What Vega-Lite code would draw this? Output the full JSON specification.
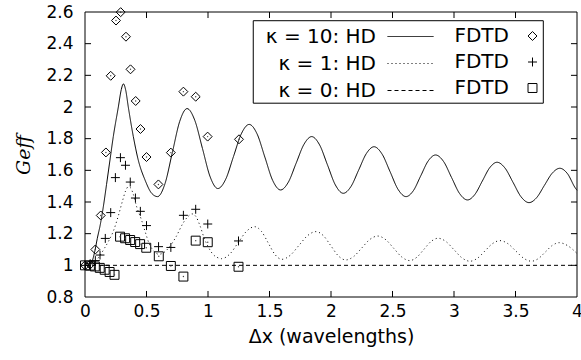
{
  "$schema": "https://vega.github.io/schema/vega-lite/v6.json",
  "width": 492,
  "height": 285,
  "autosize": {"type": "none"},
  "padding": {"left": 85, "top": 12, "right": 4, "bottom": 63},
  "background": "white",
  "config": {
    "view": {"stroke": null},
    "axis": {
      "domain": false, "ticks": false, "grid": false,
      "labelFont": "DejaVu Sans", "labelFontSize": 17, "labelColor": "black",
      "labelFlush": false, "labelOverlap": false,
      "titleFont": "DejaVu Sans", "titleFontSize": 19, "titleFontWeight": "normal", "titleColor": "black"
    }
  },
  "datasets": {
    "hd": [
      {"x": 0, "g": 1.0, "hd": "h10"}, {"x": 0.03, "g": 1.0, "hd": "h10"}, {"x": 0.055, "g": 1.02, "hd": "h10"},
      {"x": 0.08, "g": 1.09, "hd": "h10"}, {"x": 0.1, "g": 1.17, "hd": "h10"}, {"x": 0.125, "g": 1.26, "hd": "h10"},
      {"x": 0.149, "g": 1.37, "hd": "h10"}, {"x": 0.175, "g": 1.51, "hd": "h10"}, {"x": 0.203, "g": 1.665, "hd": "h10"},
      {"x": 0.23, "g": 1.813, "hd": "h10"}, {"x": 0.271, "g": 2.0, "hd": "h10"}, {"x": 0.295, "g": 2.11, "hd": "h10"},
      {"x": 0.312, "g": 2.146, "hd": "h10"}, {"x": 0.33, "g": 2.11, "hd": "h10"}, {"x": 0.352, "g": 2.0, "hd": "h10"},
      {"x": 0.393, "g": 1.813, "hd": "h10"}, {"x": 0.433, "g": 1.665, "hd": "h10"}, {"x": 0.488, "g": 1.539, "hd": "h10"},
      {"x": 0.542, "g": 1.455, "hd": "h10"}, {"x": 0.59, "g": 1.434, "hd": "h10"}, {"x": 0.65, "g": 1.515, "hd": "h10"},
      {"x": 0.71, "g": 1.712, "hd": "h10"}, {"x": 0.77, "g": 1.909, "hd": "h10"}, {"x": 0.83, "g": 1.99, "hd": "h10"},
      {"x": 0.8925, "g": 1.916, "hd": "h10"}, {"x": 0.955, "g": 1.738, "hd": "h10"}, {"x": 1.0175, "g": 1.559, "hd": "h10"},
      {"x": 1.08, "g": 1.485, "hd": "h10"}, {"x": 1.144, "g": 1.544, "hd": "h10"}, {"x": 1.2075, "g": 1.688, "hd": "h10"},
      {"x": 1.271, "g": 1.831, "hd": "h10"}, {"x": 1.335, "g": 1.89, "hd": "h10"}, {"x": 1.399, "g": 1.83, "hd": "h10"},
      {"x": 1.4625, "g": 1.683, "hd": "h10"}, {"x": 1.526, "g": 1.536, "hd": "h10"}, {"x": 1.59, "g": 1.476, "hd": "h10"},
      {"x": 1.653, "g": 1.525, "hd": "h10"}, {"x": 1.7165, "g": 1.645, "hd": "h10"}, {"x": 1.78, "g": 1.764, "hd": "h10"},
      {"x": 1.843, "g": 1.813, "hd": "h10"}, {"x": 1.907, "g": 1.761, "hd": "h10"}, {"x": 1.9715, "g": 1.634, "hd": "h10"},
      {"x": 2.036, "g": 1.507, "hd": "h10"}, {"x": 2.1, "g": 1.455, "hd": "h10"}, {"x": 2.1625, "g": 1.498, "hd": "h10"},
      {"x": 2.225, "g": 1.602, "hd": "h10"}, {"x": 2.2875, "g": 1.706, "hd": "h10"}, {"x": 2.35, "g": 1.749, "hd": "h10"},
      {"x": 2.415, "g": 1.703, "hd": "h10"}, {"x": 2.48, "g": 1.592, "hd": "h10"}, {"x": 2.545, "g": 1.48, "hd": "h10"},
      {"x": 2.61, "g": 1.434, "hd": "h10"}, {"x": 2.67, "g": 1.472, "hd": "h10"}, {"x": 2.73, "g": 1.566, "hd": "h10"},
      {"x": 2.79, "g": 1.659, "hd": "h10"}, {"x": 2.85, "g": 1.697, "hd": "h10"}, {"x": 2.915, "g": 1.656, "hd": "h10"},
      {"x": 2.98, "g": 1.555, "hd": "h10"}, {"x": 3.045, "g": 1.454, "hd": "h10"}, {"x": 3.11, "g": 1.413, "hd": "h10"},
      {"x": 3.17, "g": 1.448, "hd": "h10"}, {"x": 3.23, "g": 1.532, "hd": "h10"}, {"x": 3.29, "g": 1.616, "hd": "h10"},
      {"x": 3.35, "g": 1.651, "hd": "h10"}, {"x": 3.415, "g": 1.614, "hd": "h10"}, {"x": 3.48, "g": 1.524, "hd": "h10"},
      {"x": 3.545, "g": 1.433, "hd": "h10"}, {"x": 3.61, "g": 1.396, "hd": "h10"}, {"x": 3.6725, "g": 1.428, "hd": "h10"},
      {"x": 3.735, "g": 1.505, "hd": "h10"}, {"x": 3.7975, "g": 1.581, "hd": "h10"}, {"x": 3.86, "g": 1.613, "hd": "h10"},
      {"x": 3.9225, "g": 1.579, "hd": "h10"}, {"x": 3.985, "g": 1.49, "hd": "h10"}, {"x": 4.0, "g": 1.474, "hd": "h10"},

      {"x": 0, "g": 1.0, "hd": "h1"}, {"x": 0.04, "g": 1.0, "hd": "h1"}, {"x": 0.08, "g": 1.02, "hd": "h1"},
      {"x": 0.12, "g": 1.06, "hd": "h1"}, {"x": 0.16, "g": 1.11, "hd": "h1"}, {"x": 0.2, "g": 1.165, "hd": "h1"},
      {"x": 0.23, "g": 1.215, "hd": "h1"}, {"x": 0.27, "g": 1.31, "hd": "h1"}, {"x": 0.306, "g": 1.41, "hd": "h1"},
      {"x": 0.33, "g": 1.47, "hd": "h1"}, {"x": 0.35, "g": 1.495, "hd": "h1"}, {"x": 0.37, "g": 1.49, "hd": "h1"},
      {"x": 0.39, "g": 1.455, "hd": "h1"}, {"x": 0.42, "g": 1.37, "hd": "h1"}, {"x": 0.46, "g": 1.285, "hd": "h1"},
      {"x": 0.49, "g": 1.21, "hd": "h1"}, {"x": 0.52, "g": 1.14, "hd": "h1"}, {"x": 0.56, "g": 1.09, "hd": "h1"},
      {"x": 0.6, "g": 1.07, "hd": "h1"}, {"x": 0.64, "g": 1.08, "hd": "h1"}, {"x": 0.69, "g": 1.12, "hd": "h1"},
      {"x": 0.74, "g": 1.18, "hd": "h1"}, {"x": 0.8, "g": 1.27, "hd": "h1"}, {"x": 0.84, "g": 1.31, "hd": "h1"},
      {"x": 0.87, "g": 1.325, "hd": "h1"}, {"x": 0.9, "g": 1.31, "hd": "h1"}, {"x": 0.935, "g": 1.25, "hd": "h1"},
      {"x": 0.97, "g": 1.17, "hd": "h1"}, {"x": 1.003, "g": 1.115, "hd": "h1"}, {"x": 1.04, "g": 1.07, "hd": "h1"},
      {"x": 1.075, "g": 1.05, "hd": "h1"}, {"x": 1.11, "g": 1.042, "hd": "h1"}, {"x": 1.1775, "g": 1.0715, "hd": "h1"},
      {"x": 1.245, "g": 1.143, "hd": "h1"}, {"x": 1.3125, "g": 1.2145, "hd": "h1"}, {"x": 1.38, "g": 1.244, "hd": "h1"},
      {"x": 1.435, "g": 1.214, "hd": "h1"}, {"x": 1.49, "g": 1.141, "hd": "h1"}, {"x": 1.545, "g": 1.068, "hd": "h1"},
      {"x": 1.6, "g": 1.038, "hd": "h1"}, {"x": 1.6695, "g": 1.064, "hd": "h1"}, {"x": 1.739, "g": 1.1255, "hd": "h1"},
      {"x": 1.8085, "g": 1.187, "hd": "h1"}, {"x": 1.878, "g": 1.213, "hd": "h1"}, {"x": 1.9385, "g": 1.187, "hd": "h1"},
      {"x": 1.999, "g": 1.1235, "hd": "h1"}, {"x": 2.0595, "g": 1.06, "hd": "h1"}, {"x": 2.12, "g": 1.034, "hd": "h1"},
      {"x": 2.185, "g": 1.056, "hd": "h1"}, {"x": 2.25, "g": 1.1095, "hd": "h1"}, {"x": 2.315, "g": 1.163, "hd": "h1"},
      {"x": 2.38, "g": 1.185, "hd": "h1"}, {"x": 2.445, "g": 1.162, "hd": "h1"}, {"x": 2.51, "g": 1.1075, "hd": "h1"},
      {"x": 2.575, "g": 1.053, "hd": "h1"}, {"x": 2.64, "g": 1.03, "hd": "h1"}, {"x": 2.6975, "g": 1.051, "hd": "h1"},
      {"x": 2.755, "g": 1.1005, "hd": "h1"}, {"x": 2.8125, "g": 1.15, "hd": "h1"}, {"x": 2.87, "g": 1.171, "hd": "h1"},
      {"x": 2.935, "g": 1.15, "hd": "h1"}, {"x": 3.0, "g": 1.0985, "hd": "h1"}, {"x": 3.065, "g": 1.047, "hd": "h1"},
      {"x": 3.13, "g": 1.026, "hd": "h1"}, {"x": 3.191, "g": 1.045, "hd": "h1"}, {"x": 3.252, "g": 1.091, "hd": "h1"},
      {"x": 3.313, "g": 1.137, "hd": "h1"}, {"x": 3.374, "g": 1.156, "hd": "h1"}, {"x": 3.438, "g": 1.137, "hd": "h1"},
      {"x": 3.502, "g": 1.091, "hd": "h1"}, {"x": 3.566, "g": 1.045, "hd": "h1"}, {"x": 3.63, "g": 1.026, "hd": "h1"},
      {"x": 3.6865, "g": 1.043, "hd": "h1"}, {"x": 3.743, "g": 1.0845, "hd": "h1"}, {"x": 3.7995, "g": 1.126, "hd": "h1"},
      {"x": 3.856, "g": 1.143, "hd": "h1"}, {"x": 3.92, "g": 1.126, "hd": "h1"}, {"x": 4.0, "g": 1.075, "hd": "h1"},

      {"x": 0, "g": 1.0, "hd": "h0"}, {"x": 4.0, "g": 1.0, "hd": "h0"}
    ],
    "fdtd": [
      {"x": 0, "g": 1.0, "fdtd": "k10"}, {"x": 0.042, "g": 1.005, "fdtd": "k10"}, {"x": 0.084, "g": 1.1, "fdtd": "k10"},
      {"x": 0.128, "g": 1.315, "fdtd": "k10"}, {"x": 0.17, "g": 1.713, "fdtd": "k10"}, {"x": 0.209, "g": 2.197, "fdtd": "k10"},
      {"x": 0.252, "g": 2.546, "fdtd": "k10"}, {"x": 0.29, "g": 2.599, "fdtd": "k10"}, {"x": 0.333, "g": 2.444, "fdtd": "k10"},
      {"x": 0.37, "g": 2.238, "fdtd": "k10"}, {"x": 0.412, "g": 2.038, "fdtd": "k10"}, {"x": 0.451, "g": 1.861, "fdtd": "k10"},
      {"x": 0.5, "g": 1.684, "fdtd": "k10"}, {"x": 0.597, "g": 1.511, "fdtd": "k10"}, {"x": 0.698, "g": 1.712, "fdtd": "k10"},
      {"x": 0.8, "g": 2.097, "fdtd": "k10"}, {"x": 0.9, "g": 2.065, "fdtd": "k10"}, {"x": 0.997, "g": 1.813, "fdtd": "k10"},
      {"x": 1.252, "g": 1.796, "fdtd": "k10"},

      {"x": 0, "g": 1.0, "fdtd": "k1"}, {"x": 0.042, "g": 1.01, "fdtd": "k1"}, {"x": 0.084, "g": 1.03, "fdtd": "k1"},
      {"x": 0.122, "g": 1.065, "fdtd": "k1"}, {"x": 0.165, "g": 1.17, "fdtd": "k1"}, {"x": 0.209, "g": 1.333, "fdtd": "k1"},
      {"x": 0.247, "g": 1.554, "fdtd": "k1"}, {"x": 0.288, "g": 1.68, "fdtd": "k1"}, {"x": 0.329, "g": 1.632, "fdtd": "k1"},
      {"x": 0.368, "g": 1.526, "fdtd": "k1"}, {"x": 0.41, "g": 1.425, "fdtd": "k1"}, {"x": 0.45, "g": 1.341, "fdtd": "k1"},
      {"x": 0.5, "g": 1.251, "fdtd": "k1"}, {"x": 0.598, "g": 1.118, "fdtd": "k1"}, {"x": 0.698, "g": 1.113, "fdtd": "k1"},
      {"x": 0.8, "g": 1.316, "fdtd": "k1"}, {"x": 0.9, "g": 1.354, "fdtd": "k1"}, {"x": 0.998, "g": 1.261, "fdtd": "k1"},
      {"x": 1.248, "g": 1.154, "fdtd": "k1"},

      {"x": 0, "g": 1.0, "fdtd": "k0"}, {"x": 0.04, "g": 0.998, "fdtd": "k0"}, {"x": 0.08, "g": 0.993, "fdtd": "k0"},
      {"x": 0.12, "g": 0.984, "fdtd": "k0"}, {"x": 0.16, "g": 0.972, "fdtd": "k0"}, {"x": 0.2, "g": 0.958, "fdtd": "k0"},
      {"x": 0.24, "g": 0.94, "fdtd": "k0"}, {"x": 0.285, "g": 1.181, "fdtd": "k0"}, {"x": 0.326, "g": 1.171, "fdtd": "k0"},
      {"x": 0.367, "g": 1.16, "fdtd": "k0"}, {"x": 0.408, "g": 1.147, "fdtd": "k0"}, {"x": 0.448, "g": 1.134, "fdtd": "k0"},
      {"x": 0.498, "g": 1.111, "fdtd": "k0"}, {"x": 0.6, "g": 1.057, "fdtd": "k0"}, {"x": 0.698, "g": 0.996, "fdtd": "k0"},
      {"x": 0.8, "g": 0.929, "fdtd": "k0"}, {"x": 0.9, "g": 1.156, "fdtd": "k0"}, {"x": 0.998, "g": 1.146, "fdtd": "k0"},
      {"x": 1.248, "g": 0.991, "fdtd": "k0"}
    ]
  },
  "layer": [
    {
      "data": {"name": "hd"},
      "mark": {"type": "line", "interpolate": "monotone", "color": "black", "strokeWidth": 1},
      "encoding": {
        "x": {"field": "x", "type": "quantitative", "scale": {"domain": [0, 4], "nice": false},
          "axis": {"orient": "bottom", "values": [0, 0.5, 1, 1.5, 2, 2.5, 3, 3.5, 4], "format": "~f",
            "title": "Δx (wavelengths)", "labelPadding": 6, "titlePadding": 8}},
        "y": {"field": "g", "type": "quantitative", "scale": {"domain": [0.8, 2.6], "nice": false, "zero": false},
          "axis": {"orient": "left", "values": [0.8, 1, 1.2, 1.4, 1.6, 1.8, 2, 2.2, 2.4, 2.6], "format": "~f",
            "title": "Geff", "titleFont": "DejaVu Serif", "titleFontStyle": "italic", "labelPadding": 12, "titlePadding": 12}},
        "strokeDash": {"field": "hd", "type": "nominal",
          "scale": {"domain": ["h10", "h1", "h0"], "range": [[1, 0], [1, 3], [4, 3]]},
          "legend": {"title": null, "orient": "none", "legendX": 315, "legendY": 14,
            "symbolType": "M-2.3,0L2.3,0", "symbolSize": 400, "symbolStrokeWidth": 1, "symbolStrokeColor": "black",
            "labelExpr": "datum.value == 'h10' ? 'κ = 10: HD' : datum.value == 'h1' ? 'κ = 1: HD' : 'κ = 0: HD'",
            "labelAlign": "right", "labelOffset": -45, "labelFont": "DejaVu Sans", "labelFontSize": 20,
            "labelColor": "black", "labelLimit": 300, "rowPadding": 6, "padding": 0}}
      }
    },
    {
      "data": {"name": "fdtd"},
      "mark": {"type": "point", "filled": false, "color": "black", "strokeWidth": 1, "size": 80, "opacity": 1},
      "encoding": {
        "x": {"field": "x", "type": "quantitative", "scale": {"domain": [0, 4], "nice": false}, "axis": null},
        "y": {"field": "g", "type": "quantitative", "scale": {"domain": [0.8, 2.6], "nice": false, "zero": false}, "axis": null},
        "shape": {"field": "fdtd", "type": "nominal",
          "scale": {"domain": ["k10", "k1", "k0"], "range": ["diamond", "M-1,0L1,0M0,-1L0,1", "square"]},
          "legend": {"title": null, "orient": "none", "legendX": 437.5, "legendY": 14,
            "symbolSize": 80, "symbolStrokeWidth": 1, "symbolStrokeColor": "black", "symbolFillColor": "transparent",
            "labelExpr": "'FDTD'", "labelAlign": "right", "labelOffset": -33.5, "labelFont": "DejaVu Sans",
            "labelFontSize": 20, "labelColor": "black", "rowPadding": 6, "padding": 0}}
      }
    },
    {
      "data": {"name": "fdtd"},
      "transform": [{"filter": "datum.fdtd != 'k1'"}],
      "mark": {"type": "circle", "size": 2, "color": "#444", "opacity": 1},
      "encoding": {
        "x": {"field": "x", "type": "quantitative", "scale": {"domain": [0, 4], "nice": false}, "axis": null},
        "y": {"field": "g", "type": "quantitative", "scale": {"domain": [0.8, 2.6], "nice": false, "zero": false}, "axis": null}
      }
    },
    {
      "data": {"values": [{"t": 0.5}, {"t": 1}, {"t": 1.5}, {"t": 2}, {"t": 2.5}, {"t": 3}, {"t": 3.5}]},
      "mark": {"type": "rule", "color": "black", "strokeWidth": 1, "opacity": 1},
      "encoding": {
        "x": {"field": "t", "type": "quantitative", "scale": {"domain": [0, 4], "nice": false}, "axis": null},
        "y": {"datum": 0.8, "type": "quantitative", "scale": {"domain": [0.8, 2.6], "nice": false, "zero": false}, "axis": null},
        "y2": {"datum": 0.838}
      }
    },
    {
      "data": {"values": [{"t": 0.5}, {"t": 1}, {"t": 1.5}, {"t": 2}, {"t": 2.5}, {"t": 3}, {"t": 3.5}]},
      "mark": {"type": "rule", "color": "black", "strokeWidth": 1, "opacity": 1},
      "encoding": {
        "x": {"field": "t", "type": "quantitative", "scale": {"domain": [0, 4], "nice": false}, "axis": null},
        "y": {"datum": 2.6, "type": "quantitative", "scale": {"domain": [0.8, 2.6], "nice": false, "zero": false}, "axis": null},
        "y2": {"datum": 2.562}
      }
    },
    {
      "data": {"values": [{"t": 1}, {"t": 1.2}, {"t": 1.4}, {"t": 1.6}, {"t": 1.8}, {"t": 2}, {"t": 2.2}, {"t": 2.4}]},
      "mark": {"type": "rule", "color": "black", "strokeWidth": 1, "opacity": 1},
      "encoding": {
        "y": {"field": "t", "type": "quantitative", "scale": {"domain": [0.8, 2.6], "nice": false, "zero": false}, "axis": null},
        "x": {"datum": 0, "type": "quantitative", "scale": {"domain": [0, 4], "nice": false}, "axis": null},
        "x2": {"datum": 0.049}
      }
    },
    {
      "data": {"values": [{"t": 1}, {"t": 1.2}, {"t": 1.4}, {"t": 1.6}, {"t": 1.8}, {"t": 2}, {"t": 2.2}, {"t": 2.4}]},
      "mark": {"type": "rule", "color": "black", "strokeWidth": 1, "opacity": 1},
      "encoding": {
        "y": {"field": "t", "type": "quantitative", "scale": {"domain": [0.8, 2.6], "nice": false, "zero": false}, "axis": null},
        "x": {"datum": 4, "type": "quantitative", "scale": {"domain": [0, 4], "nice": false}, "axis": null},
        "x2": {"datum": 3.951}
      }
    },
    {
      "data": {"values": [{}]},
      "mark": {"type": "rect", "fill": "transparent", "stroke": "black", "strokeWidth": 1},
      "encoding": {
        "x": {"datum": 1.368, "type": "quantitative", "scale": {"domain": [0, 4], "nice": false}, "axis": null},
        "x2": {"datum": 3.726},
        "y": {"datum": 2.545, "type": "quantitative", "scale": {"domain": [0.8, 2.6], "nice": false, "zero": false}, "axis": null},
        "y2": {"datum": 2.024}
      }
    },
    {
      "data": {"values": [{}]},
      "mark": {"type": "rect", "fill": "transparent", "stroke": "black", "strokeWidth": 1},
      "encoding": {
        "x": {"datum": 0, "type": "quantitative", "scale": {"domain": [0, 4], "nice": false}, "axis": null},
        "x2": {"datum": 4},
        "y": {"datum": 2.6, "type": "quantitative", "scale": {"domain": [0.8, 2.6], "nice": false, "zero": false}, "axis": null},
        "y2": {"datum": 0.8}
      }
    }
  ],
  "resolve": {"scale": {"x": "independent", "y": "independent"}}
}
